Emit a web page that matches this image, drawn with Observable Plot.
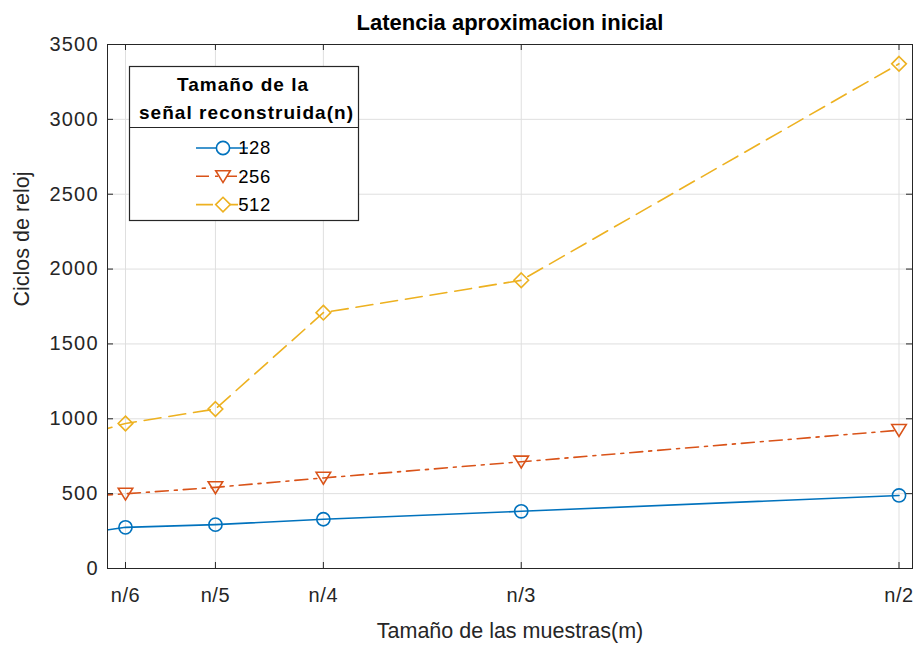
<!DOCTYPE html>
<html>
<head>
<meta charset="utf-8">
<script src="https://cdn.jsdelivr.net/npm/d3@7"></script>
<script src="https://cdn.jsdelivr.net/npm/@observablehq/plot@0.6"></script>
<style>
  html, body { margin: 0; padding: 0; background: #fff; }
  #chart { width: 915px; height: 645px; }
</style>
</head>
<body>
<div id="chart"></div>
<script>
// ---- data ----
const title = "Latencia aproximacion inicial";
const xAxisLabel = "Tamaño de las muestras(m)";
const yAxisLabel = "Ciclos de reloj";
const legendTitle = ["Tamaño de la", "señal reconstruida(n)"];

// sample sizes m = round(128 / k); first point (n/7) lies left of the visible range
const xValues = [18, 21, 26, 32, 43, 64];
const xTickValues = [21, 26, 32, 43, 64];
const xTickLabels = ["n/6", "n/5", "n/4", "n/3", "n/2"];
const yTickValues = [0, 500, 1000, 1500, 2000, 2500, 3000, 3500];

const seriesNames = ["128", "256", "512"];
const values128 = [224, 275, 293, 329, 382, 488];
const values256 = [477, 499, 542, 605, 713, 924];
const values512 = [867, 969, 1065, 1709, 1925, 3371];

const seriesColors = ["#0072BD", "#D95319", "#EDB120"];
const seriesDash = [null, "13,6,3,6", "17,8"];

// triangle pointing down (MATLAB 'v' marker)
const triangleDown = {
  draw(context, size) {
    const r = Math.sqrt(size / Math.PI);
    context.moveTo(-r * 1.1, -r * 0.85);
    context.lineTo(r * 1.1, -r * 0.85);
    context.lineTo(0, r * 0.95);
    context.closePath();
  }
};
const seriesSymbols = ["circle", triangleDown, "diamond2"];

const seriesValues = [values128, values256, values512];
const rows = seriesValues.map((vals, i) =>
  vals.map((v, j) => ({series: seriesNames[i], m: xValues[j], y: v, visible: j > 0})));

// ---- plot ----
const W = 915, H = 645;
const mL = 107, mR = 3, mT = 44, mB = 77;
const frameW = W - mL - mR, frameH = H - mT - mB;
const axisColor = "#262626";
const gridColor = "#dfdfdf";
const tick = 6;
const lw = 1.6;
const font = "'Liberation Sans', Arial, sans-serif";

const marks = [
  Plot.gridX(xTickValues, {stroke: gridColor, strokeOpacity: 1}),
  Plot.gridY(yTickValues, {stroke: gridColor, strokeOpacity: 1}),
];
rows.forEach((r, i) => {
  marks.push(Plot.line(r, {x: "m", y: "y", stroke: seriesColors[i], strokeWidth: lw,
    strokeDasharray: seriesDash[i], clip: true}));
  marks.push(Plot.dot(r.filter(d => d.visible), {x: "m", y: "y", stroke: seriesColors[i], strokeWidth: lw,
    fill: "white", fillOpacity: 0, symbol: seriesSymbols[i], r: 6.6}));
});
marks.push(
  // inward ticks on all four sides
  Plot.tickY(yTickValues, {y: d => d, stroke: axisColor, insetRight: frameW - tick}),
  Plot.tickY(yTickValues, {y: d => d, stroke: axisColor, insetLeft: frameW - tick}),
  Plot.tickX(xTickValues, {x: d => d, stroke: axisColor, insetTop: frameH - tick}),
  Plot.tickX(xTickValues, {x: d => d, stroke: axisColor, insetBottom: frameH - tick}),
  Plot.frame({stroke: axisColor, strokeWidth: 1}),
  Plot.axisX(xTickValues, {tickSize: 0, tickPadding: 19, fontSize: 20, fill: axisColor,
    tickFormat: (d, i) => xTickLabels[i], label: null}),
  Plot.axisY(yTickValues, {tickSize: 0, tickPadding: 10, fontSize: 20, fill: axisColor,
    tickFormat: "d", label: null}),
  Plot.text([xAxisLabel], {frameAnchor: "bottom", lineAnchor: "middle", dy: 63, fontSize: 21.5,
    fill: axisColor, ariaLabel: "xlabel"}),
  Plot.text([yAxisLabel], {frameAnchor: "left", lineAnchor: "middle", dx: -85, rotate: -90, fontSize: 21.5,
    fill: axisColor, ariaLabel: "ylabel"}),
  Plot.text([title], {frameAnchor: "top", lineAnchor: "middle", dy: -22, fontSize: 22, fontWeight: "bold",
    fill: "#000", ariaLabel: "title"})
);

const chart = Plot.plot({
  width: W, height: H,
  marginLeft: mL, marginRight: mR, marginTop: mT, marginBottom: mB,
  style: {fontFamily: font, background: "#fff", overflow: "visible"},
  x: {type: "linear", domain: [20, 64.75]},
  y: {domain: [0, 3500]},
  marks
});
document.getElementById("chart").appendChild(chart);

// widen text like the reference rendering
const svg = d3.select(chart);
svg.select('g[aria-label="title"] text').attr("textLength", 367).attr("lengthAdjust", "spacing");
svg.select('g[aria-label="xlabel"] text').attr("textLength", 330).attr("lengthAdjust", "spacing");
svg.select('g[aria-label="ylabel"] text').attr("textLength", 202).attr("lengthAdjust", "spacing");
svg.selectAll('g[aria-label="y-axis tick label"] text').attr("letter-spacing", 1.2).attr("dx", 1.2);
svg.selectAll('g[aria-label="x-axis tick label"] text').attr("letter-spacing", 0.6);

// ---- legend (drawn inside the plot svg) ----
const lg = svg.append("g").attr("font-family", font);
const lx = 129, ly = 66, lwid = 229, lh = 154, sepY = 127;
lg.append("rect").attr("x", lx + 0.5).attr("y", ly + 0.5).attr("width", lwid).attr("height", lh)
  .attr("fill", "white").attr("stroke", axisColor).attr("stroke-width", 1.2);
lg.append("line").attr("x1", lx).attr("x2", lx + lwid).attr("y1", sepY + 0.5).attr("y2", sepY + 0.5)
  .attr("stroke", axisColor).attr("stroke-width", 1.2);
const titleLens = [131, 214];
const titleX = [242.5, 246];
const titleY = [91, 118.5];
legendTitle.forEach((t, i) => {
  lg.append("text").attr("x", titleX[i]).attr("y", titleY[i]).attr("text-anchor", "middle")
    .attr("font-size", 19).attr("font-weight", "bold").attr("fill", "#000")
    .attr("textLength", titleLens[i]).attr("lengthAdjust", "spacing").text(t);
});
const symPath = [d3.symbol(d3.symbolCircle, Math.PI * 6.6 * 6.6)(),
                 d3.symbol(triangleDown, Math.PI * 6.6 * 6.6)(),
                 d3.symbol(d3.symbolDiamond2, Math.PI * 6.6 * 6.6)()];
seriesNames.forEach((name, i) => {
  const cy = 148 + i * 28.3;
  lg.append("line").attr("x1", 196).attr("x2", 248).attr("y1", cy).attr("y2", cy)
    .attr("stroke", seriesColors[i]).attr("stroke-width", lw)
    .attr("stroke-dasharray", seriesDash[i]);
  lg.append("path").attr("d", symPath[i]).attr("transform", `translate(223,${cy})`)
    .attr("fill", "white").attr("stroke", seriesColors[i]).attr("stroke-width", lw);
  lg.append("text").attr("x", 254.5).attr("y", cy + 6.3).attr("font-size", 18.5).attr("letter-spacing", 0.6)
    .attr("fill", "#000").text(name);
});
</script>
</body>
</html>
